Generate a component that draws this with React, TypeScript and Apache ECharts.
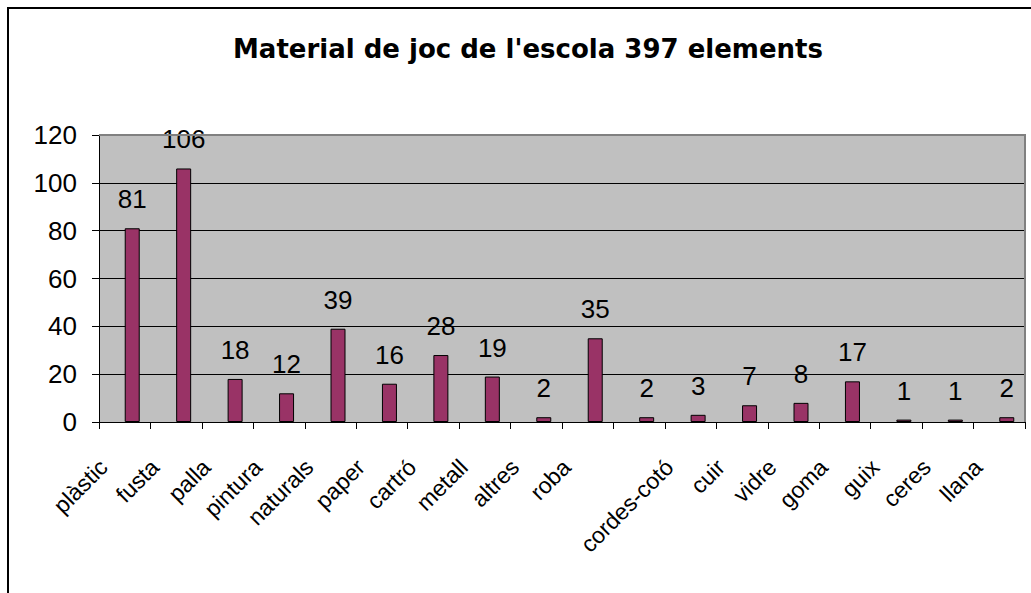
import React, { useEffect, useRef } from 'react';
import * as echarts from 'echarts';

const titleText = "Material de joc de l'escola 397 elements";
const categories = ['plàstic', 'fusta', 'palla', 'pintura', 'naturals', 'paper', 'cartró', 'metall', 'altres', 'roba', '', 'cordes-cotó', 'cuir', 'vidre', 'goma', 'guix', 'ceres', 'llana'];
const counts = [81, 106, 18, 12, 39, 16, 28, 19, 2, 35, 2, 3, 7, 8, 17, 1, 1, 2];
// An empty first series: Excel reserved its slot, so the bars sit right of each category centre.
const emptySeries: number[] = [];
const yMin = 0;
const yMax = 120;
const yStep = 20;

const W = 1031;
const H = 593;
const G = { left: 99, top: 135, right: 1025, bottom: 422 };
const LABEL_FONT = "'Liberation Sans', Arial, sans-serif";

export default function App() {
  const ref = useRef<HTMLDivElement>(null);
  useEffect(() => {
    document.body.style.margin = '0';
    const chart = echarts.init(ref.current!, null, { renderer: 'svg' });
    chart.setOption({
      animation: false,
      backgroundColor: '#ffffff',
      title: {
        text: titleText,
        left: 233,
        top: 36,
        padding: 0,
        textStyle: { fontFamily: "'DejaVu Sans', sans-serif", fontWeight: 'bold', fontSize: 26, color: '#000' },
      },
      grid: {
        left: G.left,
        top: G.top,
        width: G.right - G.left,
        height: G.bottom - G.top,
        show: true,
        backgroundColor: '#C0C0C0',
        borderWidth: 0,
      },
      xAxis: {
        type: 'category',
        data: categories,
        boundaryGap: true,
        axisLine: { show: true, lineStyle: { color: '#000', width: 1 } },
        axisTick: { show: true, length: 7, lineStyle: { color: '#000', width: 1 } },
        axisLabel: {
          interval: 0,
          rotate: 45,
          margin: 20,
          padding: [0, 30, 0, 0],
          fontFamily: LABEL_FONT,
          fontSize: 23,
          color: '#000',
        },
        splitLine: { show: false },
      },
      yAxis: {
        type: 'value',
        min: yMin,
        max: yMax,
        interval: yStep,
        axisLine: { show: true, lineStyle: { color: '#000', width: 1 } },
        axisTick: { show: true, length: 7, lineStyle: { color: '#000', width: 1 } },
        axisLabel: {
          margin: 22,
          padding: [8, 0, 0, 0],
          fontFamily: LABEL_FONT,
          fontSize: 26,
          color: '#000',
        },
        splitLine: { show: true, lineStyle: { color: '#000', width: 1 } },
      },
      series: [
        {
          type: 'bar',
          name: 'buit',
          data: emptySeries,
          barWidth: 15,
          barGap: '0%',
        },
        {
          type: 'bar',
          name: 'elements',
          data: counts,
          barWidth: 15,
          barGap: '0%',
          itemStyle: { color: '#993366', borderColor: '#000', borderWidth: 1 },
          label: {
            show: true,
            position: 'top',
            distance: 16,
            fontFamily: LABEL_FONT,
            fontSize: 26,
            color: '#000',
          },
        },
      ],
      graphic: [
        {
          type: 'polyline',
          z: 100,
          silent: true,
          shape: { points: [[8, H + 20], [8, 8], [W + 20, 8]] },
          style: { stroke: '#000', lineWidth: 2, fill: null },
        },
        {
          type: 'polyline',
          z: 100,
          silent: true,
          shape: { points: [[G.left, G.top], [G.right, G.top], [G.right, G.bottom]] },
          style: { stroke: '#808080', lineWidth: 2, fill: null },
        },
      ],
    });
    return () => chart.dispose();
  }, []);
  return <div ref={ref} style={{ width: W, height: H }} />;
}
